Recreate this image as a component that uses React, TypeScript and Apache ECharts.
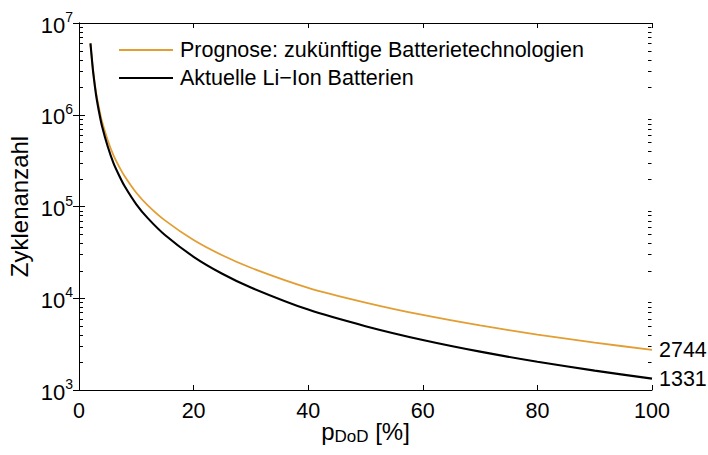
import React, { useEffect, useRef } from "react";
import * as echarts from "echarts";

// Depth of discharge [%]
const dod = [2, 2.25, 2.5, 3, 3.5, 4, 5, 6, 7, 8, 10, 12, 15, 20, 25, 30, 40, 50, 60, 70, 80, 90, 100];

// Cycle counts for future battery technologies (forecast)
const prognose = [
  6.0e6, 4.06e6, 2.89e6, 1.72e6, 1.18e6, 8.53e5, 5.31e5, 3.63e5, 2.72e5, 2.12e5, 1.41e5, 1.03e5,
  7.06e4, 4.31e4, 2.94e4, 2.15e4, 1.30e4, 8980, 6570, 5050, 4020, 3280, 2744,
];

// Cycle counts for current Li-ion batteries
const aktuell = [
  6.0e6, 4.03e6, 2.81e6, 1.61e6, 1.07e6, 7.59e5, 4.53e5, 2.99e5, 2.18e5, 1.65e5, 1.057e5, 7.47e4,
  4.89e4, 2.83e4, 1.85e4, 1.31e4, 7520, 4965, 3510, 2620, 2033, 1625, 1331,
];

const seriesNames = ["Prognose: zukünftige Batterietechnologien", "Aktuelle Li\u2212Ion Batterien"];
const seriesColors = ["#E39E33", "#000000"];
const xTicks = [0, 20, 40, 60, 80, 100];
const decades = [3, 4, 5, 6, 7];
const minorFactors = [2, 3, 4, 5, 6, 7, 8, 9];

const FONT = "Liberation Sans, Arial, Helvetica, sans-serif";
const FS = 21.5;

export default function App() {
  const ref = useRef<HTMLDivElement>(null);

  useEffect(() => {
    if (!ref.current) return;
    const chart = echarts.init(ref.current, null, { renderer: "svg" });

    const xMin = xTicks[0];
    const xMax = xTicks[xTicks.length - 1];
    const yMin = Math.pow(10, decades[0]);
    const yMax = Math.pow(10, decades[decades.length - 1]);

    // one entry per minor tick and frame side: [x of the frame side, value]
    const minorTicks: number[][] = [];
    decades.slice(0, -1).forEach((d) => {
      minorFactors.forEach((f) => {
        minorTicks.push([xMin, f * Math.pow(10, d)]);
        minorTicks.push([xMax, f * Math.pow(10, d)]);
      });
    });

    const endLabel = {
      show: true,
      formatter: (p: any) => String(p.value[1]),
      color: "#000",
      fontSize: FS,
      fontFamily: FONT,
      distance: 7,
    };

    chart.setOption({
      animation: false,
      backgroundColor: "#fff",
      textStyle: { fontFamily: FONT },
      grid: { left: 79, right: 56, top: 23, bottom: 65, containLabel: false, outerBoundsMode: "none" },
      legend: {
        data: seriesNames.map((name) => ({ name, icon: "rect" })),
        orient: "vertical",
        left: 114,
        top: 34,
        itemWidth: 54,
        itemHeight: 2,
        itemGap: 6,
        textStyle: { fontSize: FS, color: "#000", fontFamily: FONT, lineHeight: 22, padding: [0, 0, 0, 2] },
      },
      xAxis: [
        {
          type: "value",
          min: xMin,
          max: xMax,
          interval: 20,
          position: "bottom",
          name: "{p|p}{sub|DoD}{p| [%]}",
          nameLocation: "middle",
          nameGap: 29,
          nameMoveOverlap: false,
          nameTextStyle: {
            rich: {
              p: { fontSize: 24, color: "#000", fontFamily: FONT, lineHeight: 26, verticalAlign: "top" },
              sub: { fontSize: 17, color: "#000", fontFamily: FONT, lineHeight: 17, verticalAlign: "bottom", padding: [14, 0, 0, 0] },
            },
          },
          axisLine: { show: true, lineStyle: { color: "#000", width: 1 } },
          axisTick: { show: true, inside: true, length: 5, lineStyle: { color: "#000" } },
          axisLabel: { show: true, color: "#000", fontSize: FS, fontFamily: FONT, margin: 10 },
          splitLine: { show: false },
        },
        {
          type: "value",
          min: xMin,
          max: xMax,
          interval: 20,
          position: "top",
          axisLine: { show: true, lineStyle: { color: "#000", width: 1 } },
          axisTick: { show: true, inside: true, length: 5, lineStyle: { color: "#000" } },
          axisLabel: { show: false },
          splitLine: { show: false },
        },
      ],
      yAxis: [
        {
          type: "log",
          logBase: 10,
          min: yMin,
          max: yMax,
          position: "left",
          name: "Zyklenanzahl",
          nameLocation: "middle",
          nameGap: 48,
          nameMoveOverlap: false,
          nameTextStyle: { fontSize: 24, color: "#000", fontFamily: FONT },
          axisLine: { show: true, lineStyle: { color: "#000", width: 1 } },
          axisTick: { show: true, inside: true, length: 6, lineStyle: { color: "#000" } },
          axisLabel: {
            show: true,
            margin: 6,
            formatter: (v: number) => `{b|10}{s|${Math.round(Math.log10(v))}}`,
            rich: {
              b: { fontSize: 22, color: "#000", fontFamily: FONT, lineHeight: 26, verticalAlign: "bottom" },
              s: { fontSize: 14, color: "#000", fontFamily: FONT, lineHeight: 14, verticalAlign: "top" },
            },
          },
          splitLine: { show: false },
        },
        {
          type: "log",
          logBase: 10,
          min: yMin,
          max: yMax,
          position: "right",
          axisLine: { show: true, lineStyle: { color: "#000", width: 1 } },
          axisTick: { show: true, inside: true, length: 6, lineStyle: { color: "#000" } },
          axisLabel: { show: false },
          splitLine: { show: false },
        },
      ],
      series: [
        {
          name: seriesNames[0],
          type: "line",
          data: dod.map((x, i) => [x, prognose[i]]),
          showSymbol: false,
          symbol: "none",
          smooth: 0.25,
          lineStyle: { color: seriesColors[0], width: 1.8 },
          itemStyle: { color: seriesColors[0] },
          endLabel,
          z: 3,
        },
        {
          name: seriesNames[1],
          type: "line",
          data: dod.map((x, i) => [x, aktuell[i]]),
          showSymbol: false,
          symbol: "none",
          smooth: 0.25,
          lineStyle: { color: seriesColors[1], width: 2.1 },
          itemStyle: { color: seriesColors[1] },
          endLabel,
          z: 4,
        },
        {
          // minor log ticks, pointing inwards from the left and right frame
          name: "minor",
          type: "custom",
          silent: true,
          clip: false,
          data: minorTicks,
          renderItem: (_params: any, api: any) => {
            const side = api.value(0);
            const p = api.coord([side, api.value(1)]);
            const left = side === xMin;
            const y = Math.round(p[1]) + 0.5;
            const x = Math.round(p[0]) + (left ? 0.5 : -0.5);
            const dir = left ? 1 : -1;
            return {
              type: "line",
              z2: 10,
              shape: { x1: x, y1: y, x2: x + dir * 3.5, y2: y },
              style: { stroke: "#000", lineWidth: 1 },
            };
          },
          z: 6,
        },
      ],
    });

    return () => chart.dispose();
  }, []);

  return (
    <div
      ref={ref}
      style={{ position: "fixed", left: 0, top: 0, width: 708, height: 455, background: "#fff" }}
    />
  );
}
